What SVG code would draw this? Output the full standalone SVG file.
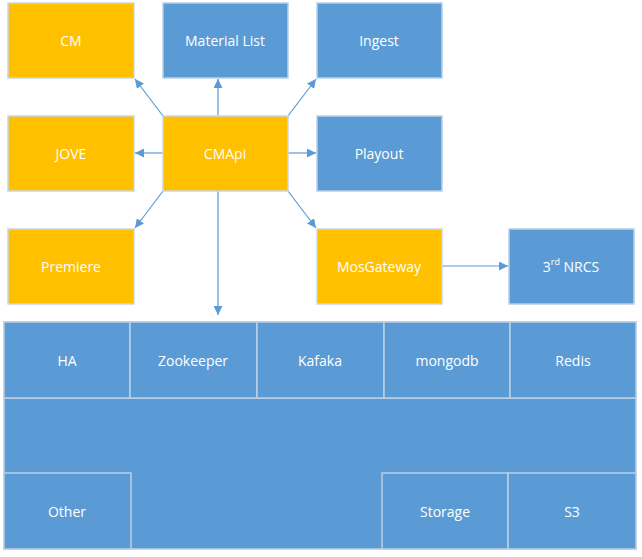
<svg xmlns="http://www.w3.org/2000/svg" width="642" height="557" viewBox="0 0 642 557">
<style>
.y{fill:#ffc000;stroke:#c9d6e4;stroke-width:1.5}
.b{fill:#5b9bd5;stroke:#bccfe3;stroke-width:1.5}
.t{fill:#fff;font-family:"Open Sans","Noto Sans",sans-serif;font-size:14px;text-anchor:middle;dominant-baseline:central}
.c{stroke:#5b9bd5;stroke-width:1.2;fill:none;marker-end:url(#a)}
</style>
<defs>
<marker id="a" viewBox="0 0 10 10" refX="10" refY="5" markerWidth="9" markerHeight="9" markerUnits="userSpaceOnUse" orient="auto">
<path d="M0,0 L10,5 L0,10 z" fill="#5b9bd5"/>
</marker>
</defs>
<g id="connectors">
<line class="c" x1="163" y1="116" x2="135" y2="79"/>
<line class="c" x1="218" y1="116" x2="218" y2="79"/>
<line class="c" x1="288" y1="116" x2="316" y2="79"/>
<line class="c" x1="163" y1="153" x2="135" y2="153"/>
<line class="c" x1="288" y1="153" x2="316" y2="153"/>
<line class="c" x1="163" y1="191" x2="135" y2="228"/>
<line class="c" x1="288" y1="191" x2="316" y2="228"/>
<line class="c" x1="218" y1="191" x2="218" y2="315"/>
<line class="c" x1="442" y1="266" x2="508" y2="266"/>
</g>
<g id="cm"><rect class="y" x="8" y="3" width="126" height="75"/><text class="t" x="71" y="40">CM</text></g>
<g id="material-list"><rect class="b" x="163" y="3" width="125" height="75"/><text class="t" x="225" y="40">Material List</text></g>
<g id="ingest"><rect class="b" x="317" y="3" width="125" height="75"/><text class="t" x="379" y="40">Ingest</text></g>
<g id="jove"><rect class="y" x="8" y="116" width="126" height="75"/><text class="t" x="71" y="153">JOVE</text></g>
<g id="cmapi"><rect class="y" x="163" y="116" width="125" height="75"/><text class="t" x="225" y="153">CMApi</text></g>
<g id="playout"><rect class="b" x="317" y="116" width="125" height="75"/><text class="t" x="379" y="153">Playout</text></g>
<g id="premiere"><rect class="y" x="8" y="229" width="126" height="75"/><text class="t" x="71" y="266">Premiere</text></g>
<g id="mosgateway"><rect class="y" x="317" y="229" width="125" height="75"/><text class="t" x="379" y="266">MosGateway</text></g>
<g id="nrcs"><rect class="b" x="509" y="229" width="125" height="75"/><text class="t" x="571" y="266">3<tspan font-size="9" dy="-5">rd</tspan><tspan dy="5"> NRCS</tspan></text></g>
<g id="platform">
<rect class="b" x="4" y="322" width="632" height="227"/>
<line x1="4" y1="398" x2="636" y2="398" stroke="#bccfe3" stroke-width="1.5"/>
</g>
<g id="ha"><rect class="b" x="4" y="322" width="126" height="76"/><text class="t" x="67" y="360">HA</text></g>
<g id="zookeeper"><rect class="b" x="130" y="322" width="127" height="76"/><text class="t" x="193" y="360">Zookeeper</text></g>
<g id="kafaka"><rect class="b" x="257" y="322" width="127" height="76"/><text class="t" x="320" y="360">Kafaka</text></g>
<g id="mongodb"><rect class="b" x="384" y="322" width="126" height="76"/><text class="t" x="447" y="360">mongodb</text></g>
<g id="redis"><rect class="b" x="510" y="322" width="126" height="76"/><text class="t" x="573" y="360">Redis</text></g>
<g id="other"><rect class="b" x="4" y="473" width="127" height="76"/><text class="t" x="67" y="511">Other</text></g>
<g id="storage"><rect class="b" x="382" y="473" width="126" height="76"/><text class="t" x="445" y="511">Storage</text></g>
<g id="s3"><rect class="b" x="508" y="473" width="128" height="76"/><text class="t" x="572" y="511">S3</text></g>
</svg>
